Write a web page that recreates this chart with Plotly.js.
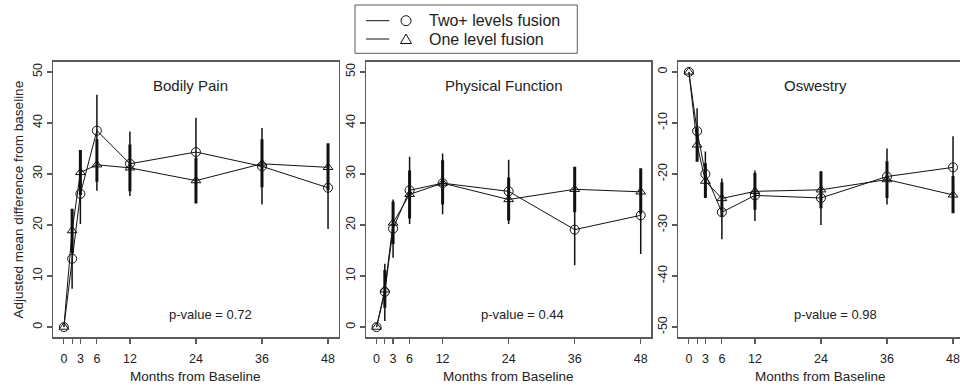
<!DOCTYPE html>
<html><head><meta charset="utf-8">
<script src="https://cdn.plot.ly/plotly-3.0.1.min.js"></script>
<style>html,body{margin:0;padding:0;overflow:hidden;background:#fff}#chart{width:975px;height:391px}</style>
</head><body><div id="chart"></div>
<script>
// ---------- data ----------
const months = [0, 1.5, 3, 6, 12, 24, 36, 48];
const xTickVals = [0, 1.5, 3, 6, 12, 24, 36, 48];
const xTickText = ['0', '', '3', '6', '12', '24', '36', '48'];
const yTickValsPos = [0, 10, 20, 30, 40, 50];
const yTickTextPos = ['0', '10', '20', '30', '40', '50'];
const yTickValsNeg = [0, -10, -20, -30, -40, -50];
const yTickTextNeg = ['0', '-10', '-20', '-30', '-40', '-50'];
const panelTitles = ['Bodily Pain', 'Physical Function', 'Oswestry'];
const pValues = ['p-value = 0.72', 'p-value = 0.44', 'p-value = 0.98'];
const seriesNames = ['Two+ levels fusion', 'One level fusion'];
const xTitle = 'Months from Baseline';
const yTitle = 'Adjusted mean difference from baseline';

// Bodily Pain
const bpTwoMean = [0, 13.4, 26.1, 38.5, 32.0, 34.3, 31.5, 27.3];
const bpTwoLow  = [0, 7.5, 20.2, 26.7, 25.7, 27.6, 24.0, 19.2];
const bpTwoHigh = [0, 19.4, 32.0, 45.5, 38.3, 41.0, 39.0, 35.5];
const bpOneMean = [0, 18.9, 30.3, 31.8, 31.2, 28.7, 32.0, 31.3];
const bpOneLow  = [0, 14.5, 25.9, 28.5, 26.6, 24.2, 27.4, 26.8];
const bpOneHigh = [0, 23.2, 34.7, 36.8, 35.8, 33.2, 36.8, 36.0];

// Physical Function
const pfTwoMean = [0, 6.9, 19.3, 26.8, 28.2, 26.6, 19.1, 21.9];
const pfTwoLow  = [0, 1.2, 13.6, 20.2, 22.1, 20.2, 12.1, 14.3];
const pfTwoHigh = [0, 12.4, 25.0, 33.4, 34.0, 32.8, 26.0, 29.5];
const pfOneMean = [0, 7.3, 20.4, 26.0, 28.2, 25.0, 27.0, 26.5];
const pfOneLow  = [0, 3.8, 16.3, 21.3, 24.0, 20.9, 22.5, 22.2];
const pfOneHigh = [0, 11.2, 24.6, 30.7, 32.7, 29.3, 31.4, 31.1];

// Oswestry
const odiTwoMean = [0, -11.6, -20.0, -27.5, -24.2, -24.7, -20.5, -18.7];
const odiTwoLow  = [0, -16.1, -24.4, -32.8, -29.2, -30.0, -26.0, -24.8];
const odiTwoHigh = [0, -7.1, -15.6, -20.9, -19.3, -19.4, -15.0, -12.6];
const odiOneMean = [0, -14.3, -21.4, -24.8, -23.4, -23.1, -21.1, -24.1];
const odiOneLow  = [0, -17.6, -24.7, -28.3, -27.0, -26.7, -24.7, -27.7];
const odiOneHigh = [0, -11.0, -17.9, -21.6, -19.8, -19.5, -17.5, -20.4];

// ---------- build ----------
const W = 975, H = 391;
const PX = v => v / W;
const PY = v => 1 - v / H;
const ink = '#111';
const textCol = '#222';
const frameCol = '#5a5a5a';
const FONT = 'Liberation Sans, Arial, Helvetica, sans-serif';

function series(xa, ya, mean, lo, hi, symbol, size, errW, name) {
  return {
    type: 'scatter', mode: 'lines+markers', name: name, showlegend: false,
    x: months, y: mean, xaxis: xa, yaxis: ya,
    line: {color: ink, width: 1},
    marker: {symbol: symbol, size: size, color: ink, line: {color: ink, width: 1}},
    error_y: {type: 'data', symmetric: false,
      array: hi.map((h, i) => h - mean[i]),
      arrayminus: mean.map((m, i) => m - lo[i]),
      color: ink, thickness: errW, width: 0}
  };
}

const panels = [
  {xa: 'x', ya: 'y', two: [bpTwoMean, bpTwoLow, bpTwoHigh], one: [bpOneMean, bpOneLow, bpOneHigh]},
  {xa: 'x2', ya: 'y2', two: [pfTwoMean, pfTwoLow, pfTwoHigh], one: [pfOneMean, pfOneLow, pfOneHigh]},
  {xa: 'x3', ya: 'y3', two: [odiTwoMean, odiTwoLow, odiTwoHigh], one: [odiOneMean, odiOneLow, odiOneHigh]}
];

const traces = [];
panels.forEach(p => {
  traces.push(series(p.xa, p.ya, p.one[0], p.one[1], p.one[2], 'triangle-up-open', 8.5, 3, seriesNames[1]));
  traces.push(series(p.xa, p.ya, p.two[0], p.two[1], p.two[2], 'circle-open', 9, 1.5, seriesNames[0]));
});

const frameLeft = [53.3, 366, 678.3];
const frameWidth = 285.3;
const plotTop = 61.7, plotBottom = 337.3;

function xAxis(i) {
  return {
    domain: [PX(frameLeft[i]), PX(frameLeft[i] + frameWidth)],
    anchor: i === 0 ? 'y' : 'y' + (i + 1),
    range: [-1.92, 49.92], fixedrange: true,
    tickmode: 'array', tickvals: xTickVals, ticktext: xTickText,
    ticks: 'outside', ticklen: 5, tickwidth: 1.2, tickcolor: frameCol,
    ticklabelstandoff: 4,
    showline: true, linecolor: frameCol, linewidth: 1.5, mirror: true,
    showgrid: false, zeroline: false,
    tickfont: {family: FONT, size: 12.5, color: textCol}
  };
}
function yAxis(i) {
  const neg = i === 2;
  return {
    domain: [PY(plotBottom), PY(plotTop)],
    anchor: i === 0 ? 'x' : 'x' + (i + 1),
    range: neg ? [-52, 2] : [-2, 52], fixedrange: true,
    tickmode: 'array',
    tickvals: neg ? yTickValsNeg : yTickValsPos,
    ticktext: neg ? yTickTextNeg : yTickTextPos,
    tickangle: -90,
    ticks: 'outside', ticklen: 5, tickwidth: 1.2, tickcolor: frameCol,
    showline: true, linecolor: frameCol, linewidth: 1.5, mirror: true,
    showgrid: false, zeroline: false,
    tickfont: {family: FONT, size: 12.5, color: textCol}
  };
}

const annotations = [];
const axSuffix = ['', '2', '3'];
for (let i = 0; i < 3; i++) {
  annotations.push({text: panelTitles[i], xref: 'x' + axSuffix[i] + ' domain', yref: 'y' + axSuffix[i] + ' domain',
    x: 0.482, y: 0.913, xanchor: 'center', yanchor: 'middle', showarrow: false,
    font: {family: FONT, size: 15, color: textCol}});
  annotations.push({text: pValues[i], xref: 'x' + axSuffix[i] + ' domain', yref: 'y' + axSuffix[i] + ' domain',
    x: 0.55, y: 0.081, xanchor: 'center', yanchor: 'middle', showarrow: false,
    font: {family: FONT, size: 13, color: textCol}});
  annotations.push({text: xTitle, xref: 'x' + axSuffix[i] + ' domain', yref: 'paper',
    x: 0.5, y: PY(376), xanchor: 'center', yanchor: 'middle', showarrow: false,
    font: {family: FONT, size: 13.5, color: textCol}});
}
annotations.push({text: yTitle, xref: 'paper', yref: 'paper', x: PX(17.5), y: PY(200),
  xanchor: 'center', yanchor: 'middle', textangle: -90, showarrow: false,
  font: {family: FONT, size: 13.5, color: textCol}});

// legend (custom box)
const legRows = [20.7, 39];
const shapes = [
  {type: 'rect', xref: 'paper', yref: 'paper', x0: PX(355), x1: PX(577.3), y0: PY(53.3), y1: PY(5),
   line: {color: frameCol, width: 1}, fillcolor: 'rgba(0,0,0,0)'}
];
legRows.forEach((ry, k) => {
  shapes.push({type: 'line', xref: 'paper', yref: 'paper', x0: PX(366), x1: PX(389.3), y0: PY(ry), y1: PY(ry),
    line: {color: ink, width: 1}});
  annotations.push({text: seriesNames[k], xref: 'paper', yref: 'paper', x: PX(427), y: PY(ry),
    xanchor: 'left', yanchor: 'middle', showarrow: false, font: {family: FONT, size: 16, color: textCol}});
});
shapes.push({type: 'circle', xref: 'paper', yref: 'paper', x0: PX(401), x1: PX(411), y0: PY(25.7), y1: PY(15.7),
  line: {color: ink, width: 1}});
shapes.push({type: 'path', xref: 'paper', yref: 'paper',
  path: 'M ' + PX(400.5) + ' ' + PY(43.5) + ' L ' + PX(411.5) + ' ' + PY(43.5) + ' L ' + PX(406) + ' ' + PY(34) + ' Z',
  line: {color: ink, width: 1}});

const layout = {
  width: W, height: H,
  margin: {l: 0, r: 0, t: 0, b: 0},
  paper_bgcolor: '#fff', plot_bgcolor: '#fff',
  showlegend: false,
  xaxis: xAxis(0), xaxis2: xAxis(1), xaxis3: xAxis(2),
  yaxis: yAxis(0), yaxis2: yAxis(1), yaxis3: yAxis(2),
  annotations: annotations, shapes: shapes,
  font: {family: FONT, color: textCol}
};

Plotly.newPlot('chart', traces, layout, {staticPlot: true, displayModeBar: false});
</script>
</body></html>
